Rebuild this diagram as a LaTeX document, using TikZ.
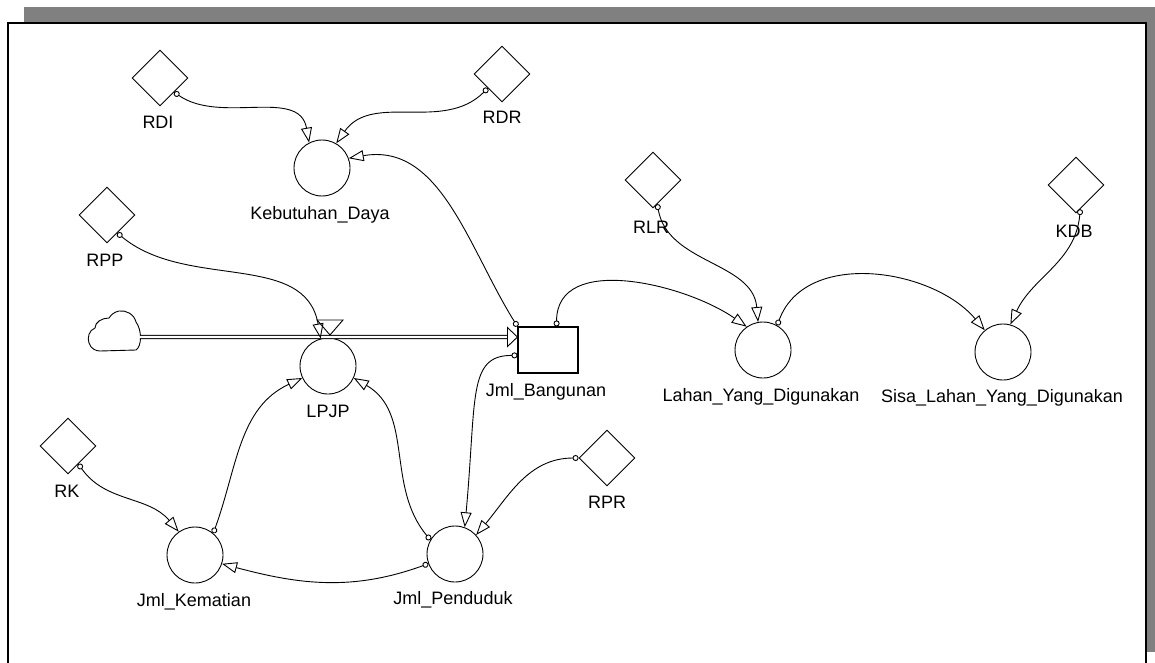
\documentclass[tikz,border=0pt]{standalone}
\usepackage{fontspec}
\setmainfont{Liberation Sans}
\usetikzlibrary{shapes.geometric,arrows.meta,calc}
\definecolor{framegray}{RGB}{128,128,128}
\begin{document}
\begin{tikzpicture}[x=1pt,y=1pt,
  conv/.style={draw, diamond, aspect=1, minimum width=56pt, minimum height=56pt, inner sep=0pt, line width=0.9pt},
  aux/.style={draw, circle, minimum size=56pt, inner sep=0pt, line width=0.9pt},
  lvl/.style={draw, rectangle, minimum width=60pt, minimum height=46pt, inner sep=0pt, line width=1.1pt},
  lbl/.style={anchor=base, inner sep=0pt, font=\fontsize{18}{20}\selectfont},
  link/.style={line width=0.9pt, {Circle[open,length=6pt,width=6pt]}-{Triangle[open,length=15pt,width=11pt]}},
  pipe/.style={line width=0.9pt, double distance=2.4pt}
]
\useasboundingbox (0,0) rectangle (1155,-663);
\fill[white] (0,0) rectangle (1155,-663);
\fill[framegray] (24,-7) rectangle (1155,-23);
\fill[framegray] (1147,-7) rectangle (1155,-652);
\draw[line width=2pt] (8,-663) -- (8,-23) -- (1146,-23) -- (1146,-663);

% converters
\node[conv] (RDI) at (160,-78) {};
\node[conv] (RDR) at (502,-74) {};
\node[conv] (RPP) at (107,-215) {};
\node[conv] (RLR) at (653,-180) {};
\node[conv] (KDB) at (1076,-185) {};
\node[conv] (RK) at (68,-446) {};
\node[conv] (RPR) at (607,-458) {};
% auxiliaries
\node[aux] (KD) at (322,-168) {};
\node[aux] (LPJP) at (328,-366) {};
\node[aux] (LYD) at (763,-350) {};
\node[aux] (SLYD) at (1003,-352) {};
\node[aux] (JK) at (195,-555) {};
\node[aux] (JP) at (455,-554) {};
% level
\node[lvl] (JB) at (548,-350) {};

% labels
\node[lbl] (RDI-t) at (158,-129) {RDI};
\node[lbl] (RDR-t) at (502,-124) {RDR};
\node[lbl] (KD-t) at (320,-219) {Kebutuhan\_Daya};
\node[lbl] (RPP-t) at (105,-266) {RPP};
\node[lbl] (LPJP-t) at (328,-417) {LPJP};
\node[lbl] (JB-t) at (546,-396) {Jml\_Bangunan};
\node[lbl] (RLR-t) at (651,-233) {RLR};
\node[lbl] (KDB-t) at (1074,-237) {KDB};
\node[lbl] (LYD-t) at (761,-401) {Lahan\_Yang\_Digunakan};
\node[lbl] (SLYD-t) at (1002,-402) {Sisa\_Lahan\_Yang\_Digunakan};
\node[lbl] (RK-t) at (67,-497) {RK};
\node[lbl] (JK-t) at (194,-606) {Jml\_Kematian};
\node[lbl] (JP-t) at (453,-604) {Jml\_Penduduk};
\node[lbl] (RPR-t) at (607,-508) {RPR};

% cloud (source)
\draw[line width=0.9pt] (100,-351) -- (136,-350) .. controls (142,-346) and (142,-330) .. (136,-322)
  .. controls (134,-314) and (126,-310) .. (119,-311) .. controls (114,-312) and (111,-315) .. (109,-318)
  .. controls (102,-318) and (95,-322) .. (95,-328) .. controls (89,-330) and (87,-338) .. (89,-343)
  .. controls (91,-349) and (96,-351) .. (100,-351);
\coordinate (cloudR) at (140,-337);

% flow pipe
\draw[pipe, shorten >=10pt] (cloudR) -- (JB.157);
\draw[line width=0.9pt, fill=white] (JB.157) -- ++(-10,9.5) -- ++(0,-19) -- cycle;
% valve
\draw[line width=0.9pt, fill=white] (317,-320) -- (343,-320) -- (330,-335) -- cycle;

% connectors
\draw[link] (RDI.south east) to[out=-35,in=100] (KD.117);
\draw[link] (RDR.south west) to[out=225,in=55] (KD.60);
\draw[link] (JB.north west) to[out=122,in=10] (KD.20);
\draw[link] (RPP.-60) to[out=-40,in=100] (LPJP.105);
\draw[link] (JB.70) to[out=90,in=145] (LYD.125);
\draw[link] (RLR.-80) to[out=-80,in=95] (LYD.100);
\draw[link] (LYD.60) to[out=70,in=130] (SLYD.130);
\draw[link] (KDB.-80) to[out=-95,in=65] (SLYD.75);
\draw[link] (JK.50) to[out=70,in=205] (LPJP.205);
\draw[link] (JP.150) to[out=130,in=-30] (LPJP.-25);
\draw[link] (JB.190) .. controls +(-50,0) and +(12,130) .. (JP.70);
\draw[link] (RPR.west) to[out=180,in=50] (JP.42);
\draw[link] (JP.200) to[out=200,in=-15] (JK.-18);
\draw[link] (RK.-60) to[out=-55,in=130] (JK.125);
\end{tikzpicture}
\end{document}
